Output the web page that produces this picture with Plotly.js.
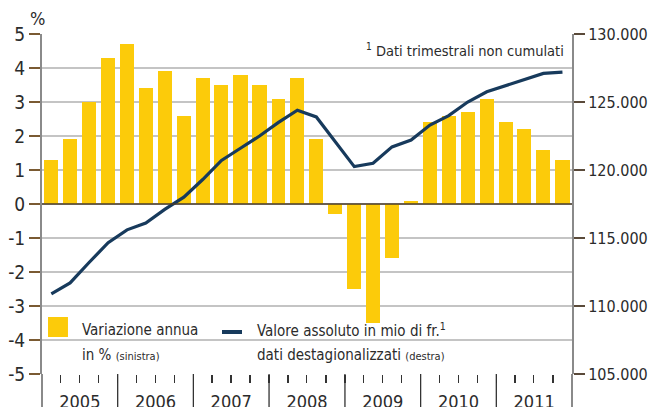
<!DOCTYPE html>
<html><head><meta charset="utf-8">
<script src="https://cdn.plot.ly/plotly-3.0.1.min.js"></script>
<style>html,body{margin:0;padding:0;background:#fff}#chart{width:651px;height:407px}</style>
</head><body><div id="chart"></div>
<script>
const years = [2005, 2006, 2007, 2008, 2009, 2010, 2011];
const quarters = [
  '2005-Q1','2005-Q2','2005-Q3','2005-Q4',
  '2006-Q1','2006-Q2','2006-Q3','2006-Q4',
  '2007-Q1','2007-Q2','2007-Q3','2007-Q4',
  '2008-Q1','2008-Q2','2008-Q3','2008-Q4',
  '2009-Q1','2009-Q2','2009-Q3','2009-Q4',
  '2010-Q1','2010-Q2','2010-Q3','2010-Q4',
  '2011-Q1','2011-Q2','2011-Q3','2011-Q4'
];
const variazioneAnnua = [
  1.3, 1.9, 3.0, 4.3,
  4.7, 3.4, 3.9, 2.6,
  3.7, 3.5, 3.8, 3.5,
  3.1, 3.7, 1.9, -0.3,
  -2.5, -3.5, -1.6, 0.1,
  2.4, 2.6, 2.7, 3.1,
  2.4, 2.2, 1.6, 1.3
];
const valoreAssoluto = [
  110900, 111700, 113200, 114650,
  115600, 116100, 117100, 118000,
  119300, 120700, 121600, 122500,
  123500, 124400, 123900, 122100,
  120250, 120500, 121700, 122200,
  123300, 124000, 125000, 125750,
  126200, 126700, 127100, 127200
];
const leftTickVals = [5, 4, 3, 2, 1, 0, -1, -2, -3, -4, -5];
const leftTickText = ['5', '4', '3', '2', '1', '0', '-1', '-2', '-3', '-4', '-5'];

const FONT = 'Liberation Sans Narrow, DejaVu Sans Condensed, Arial Narrow, sans-serif';
const TXT = '#2b2b2b';

function qBounds(label) {
  const y = +label.slice(0, 4), q = +label.slice(-1);
  return [Date.UTC(y, (q - 1) * 3, 1), Date.UTC(y, q * 3, 1)];
}
const xMid = quarters.map(l => { const b = qBounds(l); return new Date((b[0] + b[1]) / 2).toISOString(); });
const barW = quarters.map(l => { const b = qBounds(l); return 0.74 * (b[1] - b[0]); });

const traces = [
  {
    type: 'bar', x: xMid, y: variazioneAnnua, width: barW,
    marker: { color: '#fccb0a', line: { width: 0 } },
    yaxis: 'y', showlegend: false, hoverinfo: 'skip'
  },
  {
    type: 'scatter', mode: 'lines', x: xMid, y: valoreAssoluto,
    line: { color: '#173a5c', width: 3.2 },
    yaxis: 'y2', showlegend: false, hoverinfo: 'skip'
  }
];

const shapes = [];
years.slice(1).forEach(y => shapes.push({
  type: 'line', xref: 'x', yref: 'paper', x0: y + '-01-01', x1: y + '-01-01', y0: 0, y1: -0.1,
  line: { color: '#333', width: 1.3 }
}));
[0, 1].forEach(px => shapes.push({
  type: 'line', xref: 'paper', yref: 'paper', x0: px, x1: px, y0: -0.1, y1: 0,
  line: { color: '#8a8a8a', width: 2 }
}));
shapes.push({
  type: 'line', xref: 'paper', yref: 'y', x0: 0, x1: 1, y0: 0, y1: 0, layer: 'above',
  line: { color: '#4a3c2c', width: 1.6 }
});
shapes.push({
  type: 'rect', xref: 'paper', yref: 'paper', x0: 0.0113, x1: 0.049, y0: 0.1088, y1: 0.1676,
  fillcolor: '#fccb0a', line: { width: 0 }
});
shapes.push({
  type: 'line', xref: 'paper', yref: 'paper', x0: 0.3396, x1: 0.3774, y0: 0.1235, y1: 0.1235,
  line: { color: '#173a5c', width: 4 }
});

const ann = (text, x, y, xanchor, size) => ({
  text, x, y, xref: 'paper', yref: 'paper', xanchor, yanchor: 'middle', showarrow: false,
  font: { family: FONT, size, color: TXT }
});
const annotations = [
  ann('%', -0.008, 1.047, 'center', 18),
  ann('<sup>1</sup> Dati trimestrali non cumulati', 0.9887, 0.953, 'right', 14.5),
  ann('Variazione annua', 0.0717, 0.129, 'left', 15),
  ann("in % <span style='font-size:11px'>(sinistra)</span>", 0.0717, 0.0559, 'left', 15),
  ann('Valore assoluto in mio di fr.<sup>1</sup>', 0.4019, 0.129, 'left', 15),
  ann("dati destagionalizzati <span style='font-size:11px'>(destra)</span>", 0.4019, 0.0559, 'left', 15)
];

const layout = {
  width: 651, height: 407,
  margin: { l: 42, r: 79, t: 34, b: 33, pad: 0 },
  paper_bgcolor: '#fff', plot_bgcolor: '#fff',
  separators: ',.',
  font: { family: FONT, color: TXT },
  bargap: 0,
  xaxis: {
    type: 'date', range: ['2005-01-01', '2012-01-01'],
    tick0: '2005-01-01', dtick: 'M12', tickformat: '%Y', ticklabelmode: 'period',
    ticks: 'outside', ticklen: 8, tickcolor: '#333', tickwidth: 1.3,
    minor: { dtick: 'M3', ticks: 'outside', ticklen: 8, tickcolor: '#333', tickwidth: 1.3, showgrid: false },
    showgrid: false, zeroline: false, showline: false,
    tickfont: { family: FONT, size: 18, color: TXT },
    ticklabelstandoff: 3,
    fixedrange: true
  },
  yaxis: {
    range: [-5, 5], tickvals: leftTickVals, ticktext: leftTickText,
    ticks: 'outside', ticklen: 11, tickcolor: '#7a5a32', tickwidth: 1.5,
    showgrid: true, gridcolor: '#c4c4c4', gridwidth: 2,
    zeroline: false, showline: true, linecolor: '#8a8a8a', linewidth: 2,
    tickfont: { family: FONT, size: 19, color: TXT },
    fixedrange: true
  },
  yaxis2: {
    range: [105000, 130000], dtick: 5000, tick0: 105000, tickformat: ',',
    overlaying: 'y', side: 'right',
    ticks: 'outside', ticklen: 11, tickcolor: '#5a4a3a', tickwidth: 1.5,
    showgrid: false, zeroline: false, showline: true, linecolor: '#8a8a8a', linewidth: 2,
    tickfont: { family: FONT, size: 16, color: TXT },
    fixedrange: true
  },
  shapes, annotations,
  showlegend: false
};

Plotly.newPlot('chart', traces, layout, { displayModeBar: false, staticPlot: true });
</script>
</body></html>
